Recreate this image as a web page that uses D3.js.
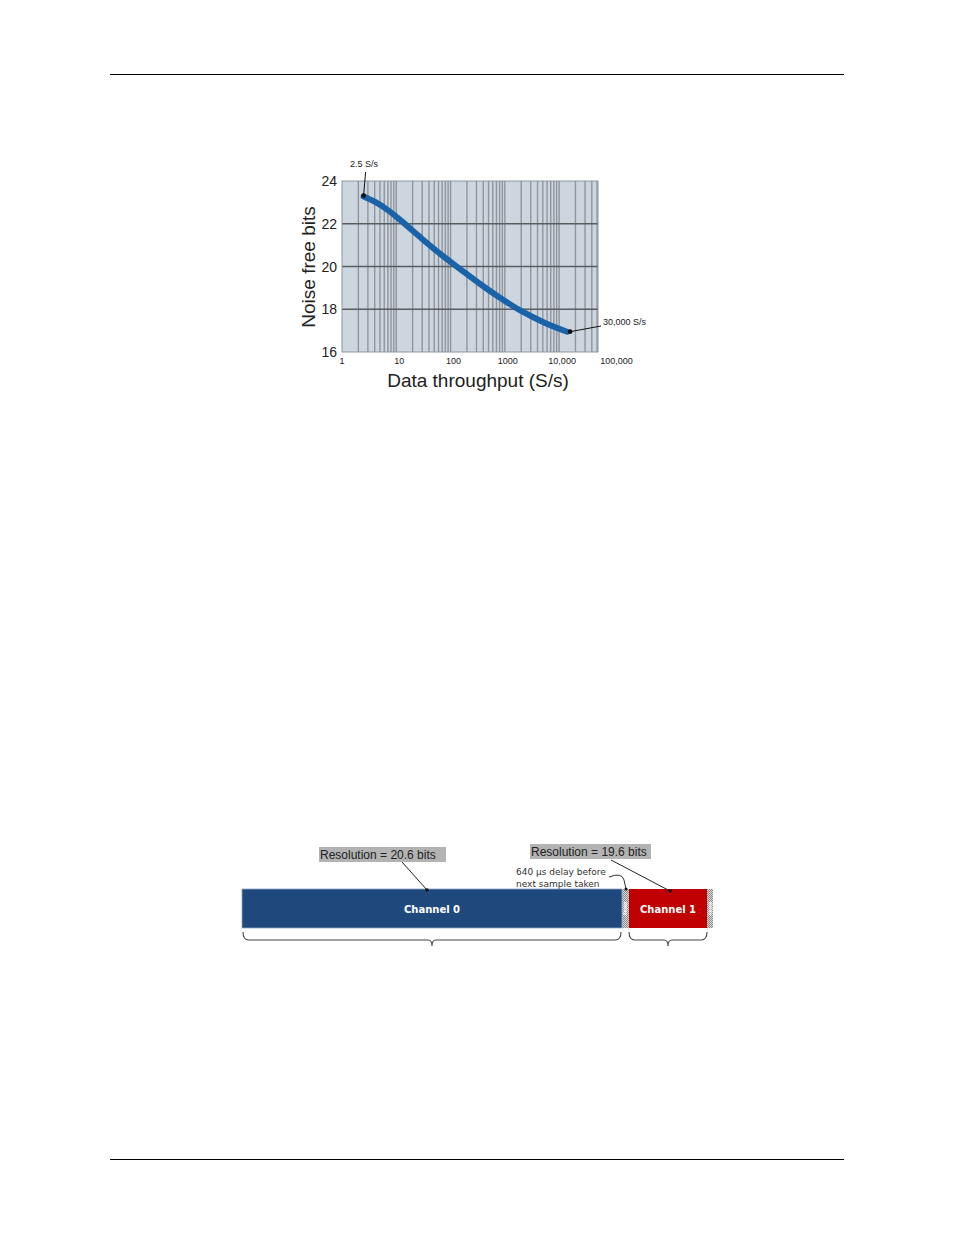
<!DOCTYPE html>
<html><head><meta charset="utf-8">
<script src="https://cdn.jsdelivr.net/npm/d3@7"></script>
<style>body{margin:0;background:#fff}svg{display:block}</style>
</head><body>
<script>
// ---- data ----
const throughput = [2.5, 4, 7, 12.7, 30, 70, 150, 350, 800, 2000, 5500, 14000];
const noiseFreeBits = [23.27, 23.03, 22.64, 22.11, 21.29, 20.52, 19.88, 19.18, 18.55, 17.92, 17.36, 16.95];
const yTicks = [16, 18, 20, 22, 24];
const xTickValues = [1, 10, 100, 1000, 10000, 100000];
const xTickLabels = ["1", "10", "100", "1000", "10,000", "100,000"];
const minorMultipliers = [1, 2, 3, 4, 5, 6, 7, 8, 9];
const annotations = ["2.5 S/s", "30,000 S/s"];
const segNames = ["Channel 0", "delay", "Channel 1", "delay"];
const segDurations = [380, 7, 78, 6];
const resolutionLabels = ["Resolution = 20.6 bits", "Resolution = 19.6 bits"];
const delayNote = ["640 \u00b5s delay before", "next sample taken"];

const W = 954, H = 1235;
const svg = d3.select("body").append("svg").attr("width", W).attr("height", H);

// page rules
svg.append("line").attr("x1",110).attr("x2",844).attr("y1",74.5).attr("y2",74.5).attr("stroke","#000");
svg.append("line").attr("x1",110).attr("x2",844).attr("y1",1159.5).attr("y2",1159.5).attr("stroke","#000");

// ---- chart ----
const px0 = 342, px1 = 598, py0 = 181, py1 = 352;
const x = d3.scaleLog().domain([1, 52000]).range([px0, px1]);
const y = d3.scaleLinear().domain([16, 24]).range([py1, py0]);
const g = svg.append("g");
g.append("rect").attr("x",px0).attr("y",py0).attr("width",px1-px0).attr("height",py1-py0).attr("fill","#cdd6df");

const minor = [];
for (let d = 1; d <= 10000; d *= 10) minorMultipliers.forEach(m => { const v = d*m; if (v > 1 && v < 52000) minor.push(v); });
g.selectAll("line.vg").data(minor).enter().append("line")
  .attr("x1", d => x(d)).attr("x2", d => x(d))
  .attr("y1", py0).attr("y2", py1).attr("stroke","#8f959b").attr("stroke-width",1.4);
g.selectAll("line.hg").data(yTicks.filter(t => t>16 && t<24)).enter().append("line")
  .attr("x1",px0).attr("x2",px1).attr("y1",d=>y(d)).attr("y2",d=>y(d)).attr("stroke","#5a5d60").attr("stroke-width",1.4);
g.append("rect").attr("x",px0).attr("y",py0).attr("width",px1-px0).attr("height",py1-py0).attr("fill","none").attr("stroke","#8f959b");

// y tick labels
g.selectAll("text.yt").data(yTicks).enter().append("text")
  .attr("x",337).attr("y",d=>y(d)+5).attr("text-anchor","end")
  .attr("font-family","Liberation Sans, Arial, sans-serif").attr("font-size",14).attr("fill","#222").text(d=>d);
// x tick labels
g.selectAll("text.xt").data(xTickValues).enter().append("text")
  .attr("x",(d,i)=>x(d)+(i===0?0:3)).attr("y",364).attr("text-anchor","middle")
  .attr("font-family","Liberation Sans, Arial, sans-serif").attr("font-size",9).attr("fill","#222")
  .text((d,i)=>xTickLabels[i]);
// titles
g.append("text").attr("transform","translate(315,267) rotate(-90)").attr("text-anchor","middle")
  .attr("font-family","Liberation Sans, Arial, sans-serif").attr("font-size",19).attr("fill","#222").text("Noise free bits");
g.append("text").attr("x",478).attr("y",387).attr("text-anchor","middle")
  .attr("font-family","Liberation Sans, Arial, sans-serif").attr("font-size",19).attr("fill","#222").text("Data throughput (S/s)");

// curve
const pts = throughput.map((t,i)=>[t, noiseFreeBits[i]]);
g.append("path").datum(pts)
  .attr("d", d3.line().x(d=>x(d[0])).y(d=>y(d[1])).curve(d3.curveCatmullRom.alpha(0.5)))
  .attr("fill","none").attr("stroke","#1b63a8").attr("stroke-width",6).attr("stroke-linecap","round");

// annotations
const first = pts[0], last = pts[pts.length-1];
g.append("line").attr("x1",x(first[0])).attr("y1",y(first[1])-1).attr("x2",x(first[0])+2).attr("y2",172).attr("stroke","#111");
g.append("circle").attr("cx",x(first[0])).attr("cy",y(first[1])-1).attr("r",2.4).attr("fill","#111");
g.append("text").attr("x",350).attr("y",167).attr("font-family","Liberation Sans, Arial, sans-serif").attr("font-size",9).attr("fill","#222").text(annotations[0]);
g.append("line").attr("x1",x(last[0])+3).attr("y1",y(last[1])).attr("x2",601).attr("y2",326).attr("stroke","#111");
g.append("circle").attr("cx",x(last[0])+3).attr("cy",y(last[1])).attr("r",2.4).attr("fill","#111");
g.append("text").attr("x",603).attr("y",325).attr("font-family","Liberation Sans, Arial, sans-serif").attr("font-size",9).attr("fill","#222").text(annotations[1]);

// ---- timing diagram ----
const total = d3.sum(segDurations);
const t = d3.scaleLinear().domain([0, total]).range([242, 713]);
const starts = segDurations.map((d,i)=>d3.sum(segDurations.slice(0,i)));
const barTop = 889, barH = 39;
const defs = svg.append("defs");
const pat = defs.append("pattern").attr("id","hatch").attr("width",2).attr("height",2).attr("patternUnits","userSpaceOnUse");
pat.append("rect").attr("width",2).attr("height",2).attr("fill","#d8d8d8");
pat.append("rect").attr("width",1).attr("height",1).attr("fill","#8a8a8a");
pat.append("rect").attr("x",1).attr("y",1).attr("width",1).attr("height",1).attr("fill","#8a8a8a");
const colors = {"Channel 0":"#1f497d","Channel 1":"#c00000","delay":"url(#hatch)"};
const tg = svg.append("g");
tg.selectAll("rect.seg").data(segNames).enter().append("rect")
  .attr("x",(d,i)=>t(starts[i])).attr("y",barTop).attr("width",(d,i)=>t(starts[i]+segDurations[i])-t(starts[i])).attr("height",barH)
  .attr("fill",d=>colors[d]);
tg.append("rect").attr("x",t(0)).attr("y",barTop).attr("width",t(segDurations[0])-t(0)).attr("height",barH).attr("fill","none").attr("stroke","#8fa8c8").attr("stroke-width",0.8);
tg.selectAll("text.seg").data(segNames).enter().append("text")
  .attr("transform",(d,i)=>{const cx=(t(starts[i])+t(starts[i]+segDurations[i]))/2; return d==="delay" ? `translate(${cx-1.5},${barTop+barH/2}) rotate(90)` : `translate(${cx},${barTop+barH/2+4})`;})
  .attr("text-anchor","middle")
  .attr("font-family","DejaVu Sans, Verdana, sans-serif").attr("font-weight","bold")
  .attr("font-size",d=>d==="delay"?4.5:10).attr("fill","#fff").text(d=>d);

// braces
function brace(xa, xb, yTop){
  const m=(xa+xb)/2, r=6, yb=yTop+8;
  return `M${xa},${yTop} Q${xa},${yb} ${xa+r},${yb} L${m-4},${yb} Q${m},${yb} ${m},${yb+6} Q${m},${yb} ${m+4},${yb} L${xb-r},${yb} Q${xb},${yb} ${xb},${yTop}`;
}
tg.append("path").attr("d",brace(t(starts[0])+1, t(starts[1])-1, 932)).attr("fill","none").attr("stroke","#444").attr("stroke-width",1.1);
tg.append("path").attr("d",brace(t(starts[2]), t(starts[3]), 932)).attr("fill","none").attr("stroke","#444").attr("stroke-width",1.1);

// resolution labels
const labelPos = [{x:319,y:847,w:127,lx:402,ly:862,px:427,py:890},{x:530,y:844,w:121,lx:611,ly:860,px:670,py:891}];
resolutionLabels.forEach((s,i)=>{
  const p=labelPos[i];
  tg.append("rect").attr("x",p.x).attr("y",p.y).attr("width",p.w).attr("height",15).attr("fill","#b3b3b3");
  tg.append("text").attr("x",p.x+1).attr("y",p.y+12).attr("font-family","Liberation Sans, Arial, sans-serif").attr("font-size",12).attr("fill","#222").text(s);
  tg.append("line").attr("x1",p.lx).attr("y1",p.ly).attr("x2",p.px).attr("y2",p.py).attr("stroke","#222");
  tg.append("circle").attr("cx",p.px).attr("cy",p.py).attr("r",1.8).attr("fill","#111");
});
tg.selectAll("text.note").data(delayNote).enter().append("text")
  .attr("x",516).attr("y",(d,i)=>875+i*11.5).attr("font-family","DejaVu Sans, Verdana, sans-serif").attr("font-size",9).attr("fill","#333").text(d=>d);
tg.append("path").attr("d","M609,877 Q622,872 624,880 L626,889").attr("fill","none").attr("stroke","#333").attr("stroke-width",1);
tg.append("circle").attr("cx",626).attr("cy",889).attr("r",1.5).attr("fill","#111");
</script>
</body></html>
